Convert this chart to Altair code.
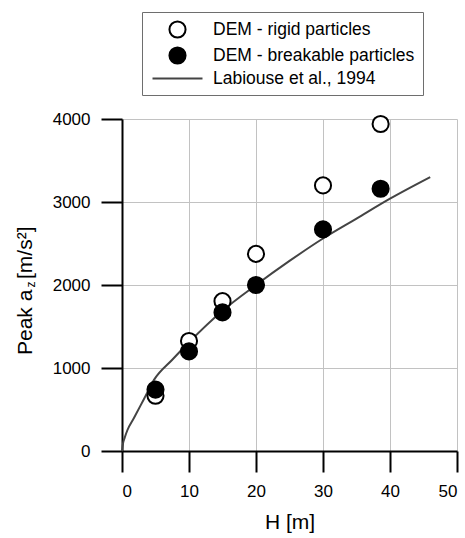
import altair as alt
import pandas as pd

# Drop height H [m] of the measured points
H_POINTS = [5, 10, 15, 20, 30, 38.6]
# Peak vertical acceleration [m/s^2] from the DEM runs
RIGID = [665, 1325, 1805, 2375, 3200, 3940]
BREAKABLE = [740, 1200, 1670, 2000, 2670, 3160]

# Labiouse et al. (1994) reference curve
H_CURVE = [0, 0.15, 0.4, 0.8, 1.8, 3.3, 4.8, 7.5, 10, 15, 20, 25, 30, 35, 40, 46]
A_CURVE = [0, 90, 160, 250, 400, 630, 860, 1100, 1310, 1690, 2000, 2290, 2560, 2800, 3040, 3300]

SERIES = ["DEM - rigid particles", "DEM - breakable particles", "Labiouse et al., 1994"]
X_TICKS = [0, 10, 20, 30, 40, 50]
Y_TICKS = [0, 1000, 2000, 3000, 4000]

FONT = "Liberation Sans"

points = pd.DataFrame(
    {
        "series": [SERIES[0]] * len(H_POINTS) + [SERIES[1]] * len(H_POINTS),
        "H": H_POINTS + H_POINTS,
        "a": RIGID + BREAKABLE,
        "order": [0] * len(H_POINTS) + [1] * len(H_POINTS),
    }
)
curve = pd.DataFrame({"series": SERIES[2], "H": H_CURVE, "a": A_CURVE})

axis_style = dict(
    format="d",
    grid=True,
    gridColor="#c2c2c2",
    gridWidth=1,
    gridOpacity=1,
    domainColor="black",
    domainWidth=2,
    tickColor="black",
    tickWidth=2,
    tickSize=21,
    labelFont=FONT,
    labelFontSize=17,
    labelColor="black",
    labelPadding=11,
    titleFont=FONT,
    titleFontSize=21,
    titleFontWeight="normal",
    titleColor="black",
)

x_enc = alt.X(
    "H:Q",
    scale=alt.Scale(domain=[0, 50], nice=False),
    axis=alt.Axis(values=X_TICKS, title="H [m]", titlePadding=12, **axis_style),
)
y_enc = alt.Y(
    "a:Q",
    scale=alt.Scale(domain=[0, 4000], nice=False),
    axis=alt.Axis(values=Y_TICKS, title=None, **axis_style),
)

legend = alt.Legend(
    title=None,
    orient="none",
    legendX=20,
    legendY=-107,
    strokeColor="#6e6e6e",
    fillColor="white",
    padding=8,
    rowPadding=1,
    labelFont=FONT,
    labelFontSize=17.5,
    labelColor="black",
    labelLimit=400,
    labelOffset=26,
    symbolOffset=18,
    symbolSize=260,
)

stroke_scale = alt.Scale(domain=SERIES, range=["black", "black", "#444444"])
fill_scale = alt.Scale(domain=SERIES, range=["white", "black", "transparent"])
shape_scale = alt.Scale(domain=SERIES, range=["circle", "circle", "M-3.1,0H3.1"])
width_scale = alt.Scale(domain=SERIES, range=[2, 2, 1])

line = (
    alt.Chart(curve)
    .mark_line(interpolate="monotone")
    .encode(
        x=x_enc,
        y=y_enc,
        stroke=alt.Stroke("series:N", scale=stroke_scale, legend=legend),
        strokeWidth=alt.StrokeWidth("series:N", scale=width_scale, legend=legend),
    )
)

dots = (
    alt.Chart(points)
    .mark_point(filled=True, size=260, opacity=1)
    .encode(
        x=x_enc,
        y=y_enc,
        stroke=alt.Stroke("series:N", scale=stroke_scale, legend=legend),
        fill=alt.Fill("series:N", scale=fill_scale, legend=legend),
        shape=alt.Shape("series:N", scale=shape_scale, legend=legend),
        strokeWidth=alt.StrokeWidth("series:N", scale=width_scale, legend=legend),
        order=alt.Order("order:Q"),
    )
)

# y-axis title with subscript z, built from three text pieces
one = pd.DataFrame({"k": [0]})
title_main = alt.Chart(one).mark_text(
    text="Peak a", angle=270, align="left", baseline="alphabetic",
    font=FONT, fontSize=21, color="black",
).encode(x=alt.value(-90.5), y=alt.value(236))
title_sub = alt.Chart(one).mark_text(
    text="z", angle=270, align="left", baseline="alphabetic",
    font=FONT, fontSize=12, color="black",
).encode(x=alt.value(-87.5), y=alt.value(168.5))
title_unit = alt.Chart(one).mark_text(
    text="[m/s²]", angle=270, align="left", baseline="alphabetic",
    font=FONT, fontSize=21, color="black",
).encode(x=alt.value(-90.5), y=alt.value(160))

chart = (
    alt.layer(line, dots, title_main, title_sub, title_unit)
    .properties(
        width=335,
        height=332,
        padding={"left": 122, "top": 119, "right": 8, "bottom": 87},
        autosize=alt.AutoSizeParams(type="none"),
    )
    .configure_view(stroke=None)
)

chart.save("out.html", embed_options={"renderer": "svg", "actions": False})
